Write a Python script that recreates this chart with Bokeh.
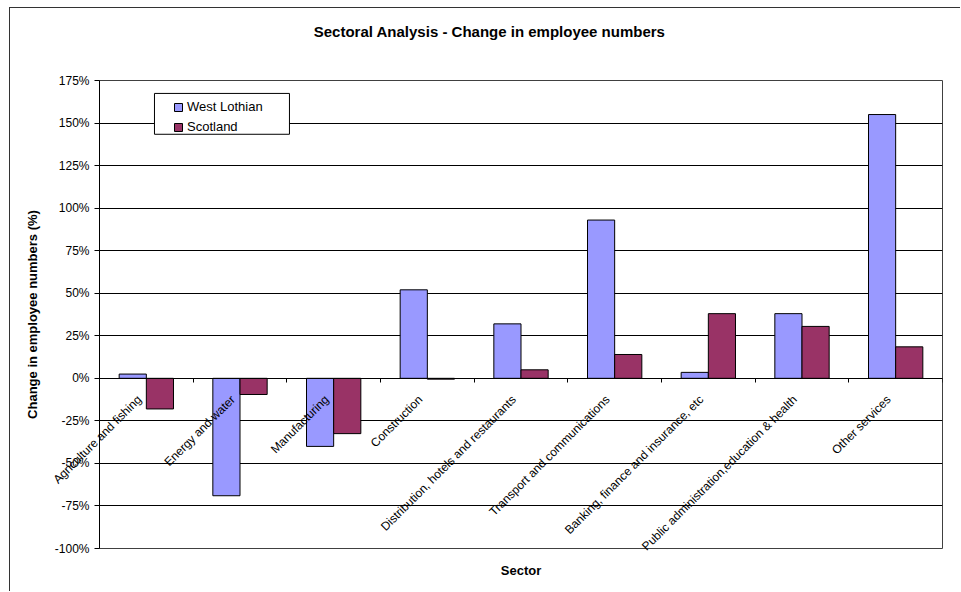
import math
from bokeh.plotting import figure
from bokeh.models import (ColumnDataSource, FactorRange, Range1d, Legend,
                          LegendItem, PrintfTickFormatter, FixedTicker, LinearAxis,
                          CustomJSTickFormatter, BoxAnnotation)
from bokeh.transform import dodge
from bokeh.embed import file_html
from bokeh.resources import INLINE

# ---------------- data ----------------
sectors = [
    "Agriculture and fishing",
    "Energy and water",
    "Manufacturing",
    "Construction",
    "Distribution, hotels and restaurants",
    "Transport and communications",
    "Banking, finance and insurance, etc",
    "Public administration,education & health",
    "Other services",
]
west_lothian = [2.5, -69, -40, 52, 32, 93, 3.5, 38, 155]
scotland = [-18, -9.5, -32.5, -0.5, 5, 14, 38, 30.5, 18.5]
series_names = ["West Lothian", "Scotland"]
y_ticks = [-100, -75, -50, -25, 0, 25, 50, 75, 100, 125, 150, 175]

title_text = "Sectoral Analysis - Change in employee numbers"
x_title = "Sector"
y_title = "Change in employee numbers (%)"

# ---------------- style ----------------
FONT = "Liberation Sans"
C_WL = "#9999FF"
C_SC = "#993366"
EMPTY = CustomJSTickFormatter(code="return ''")
LABEL_SHIFT = 0.075   # rotated labels end slightly left of the category centre
TITLE_X = 4.165       # centre of the whole chart area, in category units

src = ColumnDataSource(dict(sector=sectors, wl=west_lothian, sc=scotland))

p = figure(
    x_range=FactorRange(*sectors),
    y_range=Range1d(y_ticks[0], y_ticks[-1]),
    width=951, height=584,
    output_backend="svg", toolbar_location=None,
    min_border_left=89, min_border_top=72, min_border_right=19, min_border_bottom=44,
)
p.styles = {"margin-left": "9px", "margin-top": "7px",
            "border-top": "1px solid #333333", "border-left": "1px solid #333333"}
p.background_fill_color = "white"
p.border_fill_color = "white"
p.outline_line_color = "#404040"
p.outline_line_width = 1

# y axis
p.yaxis.ticker = FixedTicker(ticks=y_ticks)
p.yaxis.formatter = PrintfTickFormatter(format="%d%%")
p.yaxis.major_label_text_font = FONT
p.yaxis.major_label_text_font_size = "12px"
p.yaxis.major_label_text_color = "black"
p.yaxis.major_tick_out = 5
p.yaxis.major_tick_in = 0
p.yaxis.minor_tick_line_color = None
p.yaxis.axis_line_color = "black"
p.yaxis.major_tick_line_color = "black"
p.yaxis.major_label_standoff = 5
p.yaxis.axis_label = y_title
p.yaxis.axis_label_text_font = FONT
p.yaxis.axis_label_text_font_size = "13px"
p.yaxis.axis_label_text_font_style = "bold"
p.yaxis.axis_label_text_color = "black"
p.yaxis.axis_label_standoff = 12

p.ygrid.ticker = FixedTicker(ticks=y_ticks)
p.ygrid.grid_line_color = "black"
p.ygrid.grid_line_width = 1
p.xgrid.visible = False
p.xaxis.visible = False

# zero line with boundary tick marks
zero_axis = LinearAxis(fixed_location=0,
                       ticker=FixedTicker(ticks=list(range(len(sectors) + 1))),
                       formatter=EMPTY,
                       axis_line_color="black", major_tick_line_color="black",
                       minor_tick_line_color=None, major_tick_in=4, major_tick_out=0,
                       major_label_standoff=0)
p.add_layout(zero_axis, "above")

# rotated category labels: a bottom axis whose labels are pulled up under the zero line
cat_axis = LinearAxis(
    ticker=FixedTicker(ticks=[i + 0.5 - LABEL_SHIFT for i in range(len(sectors))]),
    formatter=CustomJSTickFormatter(args=dict(names=sectors),
                                    code="return names[Math.floor(tick)]"),
    axis_line_color=None, major_tick_line_color=None, minor_tick_line_color=None,
    major_tick_out=0, major_tick_in=0, major_label_standoff=-151,
    major_label_orientation=math.pi / 4)
cat_axis.major_label_text_font = FONT
cat_axis.major_label_text_font_size = "12px"
cat_axis.major_label_text_color = "black"
p.add_layout(cat_axis, "below")

# "Sector" axis title
x_axis_title = LinearAxis(ticker=FixedTicker(ticks=[]), axis_label=x_title,
                          axis_line_color=None, major_tick_line_color=None,
                          minor_tick_line_color=None, major_tick_out=0, major_tick_in=0,
                          major_label_standoff=0, formatter=EMPTY)
x_axis_title.axis_label_text_font = FONT
x_axis_title.axis_label_text_font_size = "13px"
x_axis_title.axis_label_text_font_style = "bold"
x_axis_title.axis_label_text_color = "black"
x_axis_title.axis_label_standoff = 1
p.add_layout(x_axis_title, "below")

# chart title, centred over the whole chart area (drawn as a single top tick label)
title_axis = LinearAxis(ticker=FixedTicker(ticks=[TITLE_X]),
                        formatter=CustomJSTickFormatter(args=dict(t=title_text),
                                                        code="return t"),
                        axis_line_color=None, major_tick_line_color=None,
                        minor_tick_line_color=None, major_tick_out=0, major_tick_in=0,
                        major_label_standoff=41)
title_axis.major_label_text_font = FONT
title_axis.major_label_text_font_size = "15px"
title_axis.major_label_text_font_style = "bold"
title_axis.major_label_text_color = "black"
p.add_layout(title_axis, "above")

# bars
r_wl = p.vbar(x=dodge("sector", -0.145, range=p.x_range), top="wl", width=0.29,
              source=src, fill_color=C_WL, line_color="black", line_width=1)
r_sc = p.vbar(x=dodge("sector", 0.145, range=p.x_range), top="sc", width=0.29,
              source=src, fill_color=C_SC, line_color="black", line_width=1)

# legend box + legend
p.add_layout(BoxAnnotation(left=0.587, right=2.028, top=167.4, bottom=143.4,
                           fill_color="white", fill_alpha=1.0,
                           line_color="black", line_width=1, line_alpha=1.0))
legend = Legend(items=[LegendItem(label=series_names[0], renderers=[r_wl]),
                       LegendItem(label=series_names[1], renderers=[r_sc])],
                location=(74, 414), padding=3, spacing=5, label_height=15,
                glyph_width=10, glyph_height=10, label_standoff=4,
                label_text_font=FONT, label_text_font_size="13px",
                label_text_color="black",
                border_line_color=None, background_fill_alpha=0)
p.add_layout(legend)

open("out.html", "w").write(file_html(p, INLINE))
